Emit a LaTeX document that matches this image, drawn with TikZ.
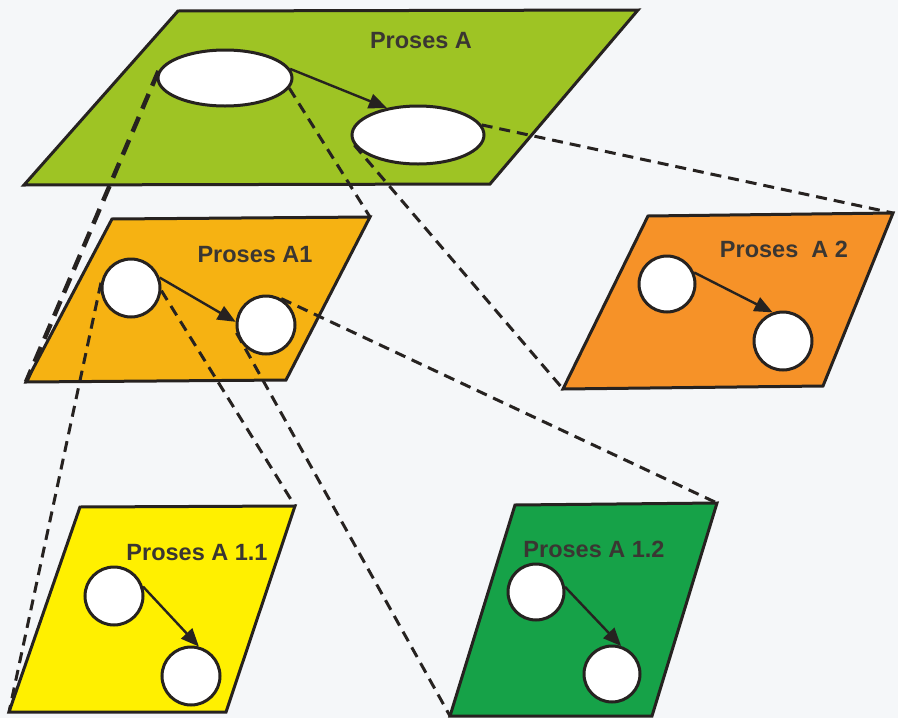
\documentclass[tikz,border=0pt]{standalone}
\usepackage{fontspec}
\setmainfont{Liberation Sans}
\usetikzlibrary{shapes.geometric,arrows.meta}

\definecolor{bgc}{RGB}{245,247,249}
\definecolor{linec}{RGB}{38,34,32}
\definecolor{textc}{RGB}{58,54,50}
\definecolor{plateA}{RGB}{158,196,36}
\definecolor{plateAone}{RGB}{246,178,18}
\definecolor{plateAtwo}{RGB}{246,146,40}
\definecolor{plateAoneone}{RGB}{255,240,0}
\definecolor{plateAonetwo}{RGB}{22,162,72}

\begin{document}
\begin{tikzpicture}[x=1pt,y=-1pt,
  plate/.style={draw=linec, line width=3pt, line join=miter},
  hole/.style={ellipse, draw=linec, fill=white, line width=3pt, inner sep=0pt,
               minimum width=134pt, minimum height=56pt},
  disc/.style={circle, draw=linec, fill=white, line width=3pt, inner sep=0pt,
               minimum size=58pt},
  flow/.style={draw=linec, line width=2.4pt, -{Triangle[length=18pt,width=15pt]}},
  proj/.style={draw=linec, line width=3pt, dash pattern=on 11pt off 7pt},
  platetext/.style={font=\bfseries\fontsize{23.5}{24}\selectfont, text=textc, inner sep=0pt}
]
% page
\fill[bgc] (0,0) rectangle (898,718);
\useasboundingbox (0,0) rectangle (898,718);

% plate corners
\coordinate (A-tl) at (178,11);   \coordinate (A-tr) at (638,10);
\coordinate (A-br) at (490,184);  \coordinate (A-bl) at (24,185);
\coordinate (A1-tl) at (112,219); \coordinate (A1-tr) at (370,217);
\coordinate (A1-br) at (286,380); \coordinate (A1-bl) at (26,382);
\coordinate (A2-tl) at (648,216); \coordinate (A2-tr) at (893,213);
\coordinate (A2-br) at (823,386); \coordinate (A2-bl) at (563,389);
\coordinate (A11-tl) at (80,507); \coordinate (A11-tr) at (295,506);
\coordinate (A11-br) at (226,712);\coordinate (A11-bl) at (9,712);
\coordinate (A12-tl) at (515,505);\coordinate (A12-tr) at (717,503);
\coordinate (A12-br) at (652,716);\coordinate (A12-bl) at (450,716);

% plates
\filldraw[plate, fill=plateA] (A-tl) -- (A-tr) -- (A-br) -- (A-bl) -- cycle;
\filldraw[plate, fill=plateAone] (A1-tl) -- (A1-tr) -- (A1-br) -- (A1-bl) -- cycle;
\filldraw[plate, fill=plateAtwo] (A2-tl) -- (A2-tr) -- (A2-br) -- (A2-bl) -- cycle;
\filldraw[plate, fill=plateAoneone] (A11-tl) -- (A11-tr) -- (A11-br) -- (A11-bl) -- cycle;
\filldraw[plate, fill=plateAonetwo] (A12-tl) -- (A12-tr) -- (A12-br) -- (A12-bl) -- cycle;

% sub-processes
\node[hole] (a-in)  at (225,78)  {};
\node[hole, minimum width=132pt, minimum height=58pt] (a-out) at (418,135) {};
\node[disc] (a1-in)  at (131,288) {};
\node[disc] (a1-out) at (266,325) {};
\node[disc, minimum size=56pt] (a2-in)  at (667,284) {};
\node[disc] (a2-out) at (783,341) {};
\node[disc] (a11-in)  at (114,596) {};
\node[disc] (a11-out) at (191,676) {};
\node[disc, minimum size=56pt] (a12-in)  at (536,592) {};
\node[disc, minimum size=56pt] (a12-out) at (612,674) {};

% projection lines, each starting on a rim
\draw[proj, line width=4.5pt, dash pattern=on 16pt off 9pt] (a-in.174) -- (A1-bl);
\draw[proj] (a-in.-9) -- (A1-tr);
\draw[proj] (a-out.189) -- (A2-bl);
\draw[proj] (a-out.9) -- (A2-tr);
\draw[proj] (a1-in.170) -- (A11-bl);
\draw[proj] (a1-in.-5) -- (A11-tr);
\draw[proj] (a1-out.195) -- (A12-bl);
\draw[proj] (a1-out.60) -- (A12-tr);

% flows inside each plate
\draw[flow] (a-in.8) -- (a-out.139);
\draw[flow] (a1-in.20) -- (a1-out.174);
\draw[flow] (a2-in.23) -- (a2-out.110);
\draw[flow] (a11-in.18) -- (a11-out.75);
\draw[flow] (a12-in.10) -- (a12-out.72);

% plate titles
\node[platetext] (tA)   at (421,41)  {Proses A};
\node[platetext] (tA1)  at (255,255) {Proses A1};
\node[platetext] (tA2)  at (784,249) {Proses~ A 2};
\node[platetext] (tA11) at (197,553) {Proses A 1.1};
\node[platetext] (tA12) at (594,549) {Proses A 1.2};
\end{tikzpicture}
\end{document}
